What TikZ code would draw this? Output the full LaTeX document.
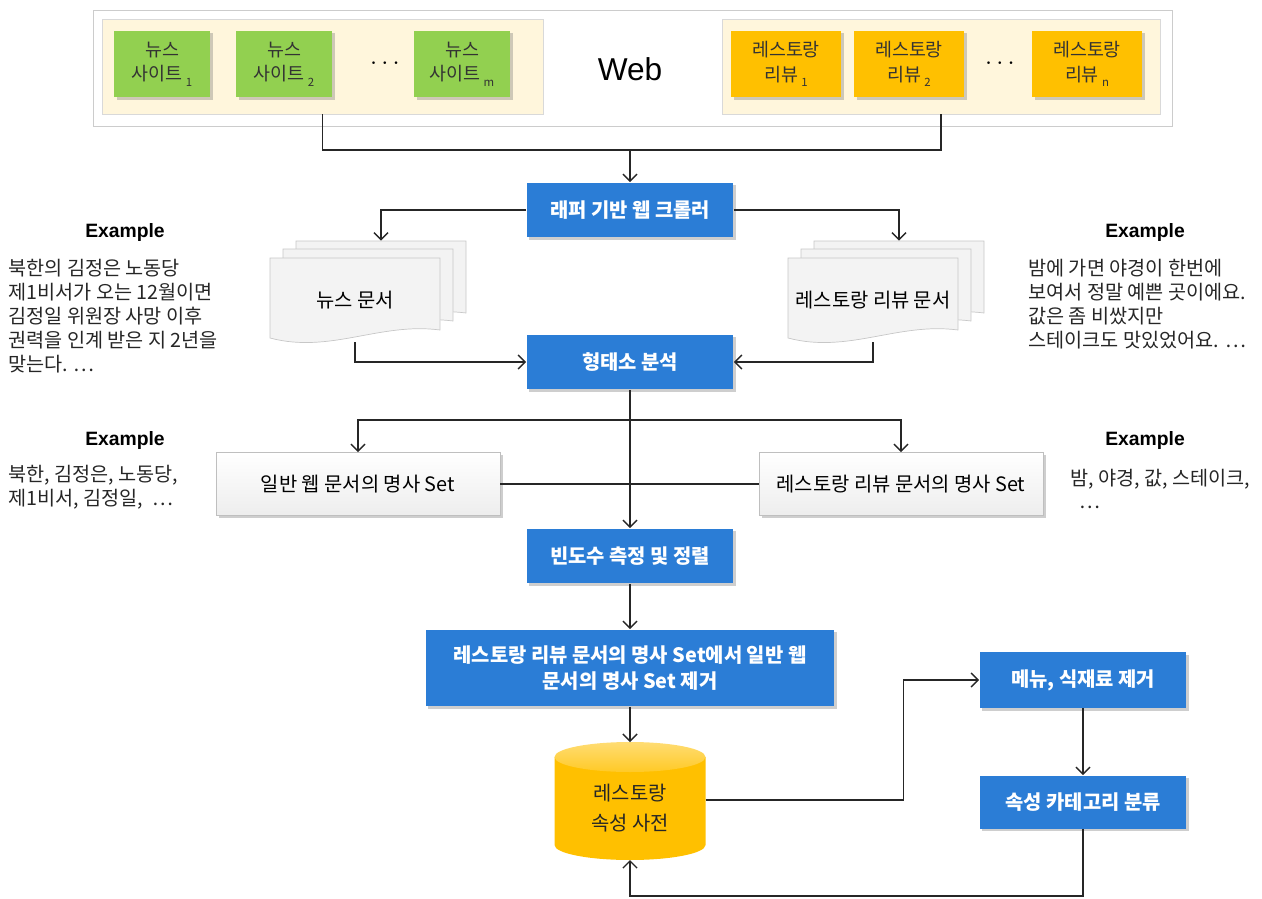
\documentclass[tikz,border=0pt]{standalone}
\usepackage{fontspec}
\setmainfont{Noto Sans CJK KR}
\newfontfamily\headfont{Liberation Sans}
\usepackage{tikz}
\usetikzlibrary{arrows.meta,shadows,calc}

\definecolor{procblue}{RGB}{43,125,214}
\definecolor{sitegreen}{RGB}{146,208,80}
\definecolor{revorange}{RGB}{255,192,0}
\definecolor{panelcream}{RGB}{255,246,220}
\definecolor{pagegray}{RGB}{243,243,243}

\newcommand\subidx[1]{\,\raisebox{-0.5ex}{\fontsize{6.5}{6.5}\selectfont #1}}

\tikzset{
  boxshadow/.style={drop shadow={shadow xshift=1.6pt,shadow yshift=-1.6pt,fill=black!55,opacity=0.35}},
  procbox/.style={fill=procblue,text=white,boxshadow,align=center,inner sep=2pt,
    font=\fontsize{11.3}{15}\selectfont\bfseries,minimum width=4.14cm,minimum height=1.1cm},
  nounbox/.style={draw=black!25,top color=white,bottom color=black!7,boxshadow,
    font=\fontsize{11.3}{15}\selectfont,minimum width=5.68cm,minimum height=1.26cm},
  sitebox/.style={fill=sitegreen,text=black!80,boxshadow,align=center,
    font=\fontsize{10.5}{14}\selectfont,minimum width=1.92cm,minimum height=1.34cm},
  revbox/.style={sitebox,fill=revorange,minimum width=2.2cm},
  panel/.style={draw=black!15,fill=panelcream,minimum height=1.9cm},
  pageline/.style={draw=black!22,fill=pagegray},
  doctext/.style={font=\fontsize{11.3}{15}\selectfont,minimum width=3.4cm,minimum height=1.68cm},
  exhead/.style={font=\headfont\fontsize{11}{13}\selectfont\bfseries},
  extext/.style={align=left,text=black!85,inner sep=0pt,font=\fontsize{11.2}{13.6}\selectfont},
  dots/.style={font=\Large},
  link/.style={draw=black!85,line width=0.8pt},
  docpage/.pic={
    \path[pageline] (0,0) -- (170,0) -- (170,72) .. controls (110,64) and (60,96) .. (0,80) -- cycle;
  },
  docstack/.pic={
    \pic at (26,-17) {docpage};
    \pic at (13,-9) {docpage};
    \pic at (0,0) {docpage};
  }
}

\begin{document}
\begin{tikzpicture}[x=0.02cm,y=-0.02cm,>={Straight Barb[length=4pt,width=8pt]}]
  \useasboundingbox (0,0) rectangle (1262,899);

  % web sources
  \draw[draw=black!20,fill=white] (93,10) rectangle (1172,126);
  \node[panel,minimum width=8.82cm] (newspanel) at (322.5,66.5) {};
  \node[panel,minimum width=8.76cm] (revpanel) at (941,66.5) {};
  \node[sitebox] (site1) at (162,64) {뉴스\\사이트\subidx{1}};
  \node[sitebox] (site2) at (284,64) {뉴스\\사이트\subidx{2}};
  \node[dots] (sitedots) at (385,64) {$\cdots$};
  \node[sitebox] (sitem) at (462,64) {뉴스\\사이트\subidx{m}};
  \node[font=\headfont\fontsize{18}{21}\selectfont] (web) at (630,69) {Web};
  \node[revbox] (rev1) at (786,64) {레스토랑\\리뷰\subidx{1}};
  \node[revbox] (rev2) at (909,64) {레스토랑\\리뷰\subidx{2}};
  \node[dots] (revdots) at (1000,64) {$\cdots$};
  \node[revbox] (revn) at (1087,64) {레스토랑\\리뷰\subidx{n}};

  % processing steps
  \node[procbox] (crawler) at (630,210) {래퍼 기반 웹 크롤러};
  \pic at (270,258) {docstack};
  \node[doctext] (news) at (355,300) {뉴스 문서};
  \pic at (788,258) {docstack};
  \node[doctext] (review) at (873,300) {레스토랑 리뷰 문서};
  \node[procbox] (analysis) at (630,362) {형태소 분석};
  \node[nounbox] (webnouns) at (358,484) {일반 웹 문서의 명사 Set};
  \node[nounbox] (revnouns) at (901,484) {레스토랑 리뷰 문서의 명사 Set};
  \node[procbox] (freq) at (630,556) {빈도수 측정 및 정렬};
  \node[procbox,minimum width=8.18cm,minimum height=1.54cm] (remove) at (630,668)
    {레스토랑 리뷰 문서의 명사 Set에서 일반 웹\\문서의 명사 Set 제거};
  \node[procbox,minimum height=1.12cm] (menu) at (1083,680) {메뉴, 식재료 제거};
  \node[procbox,minimum height=1.06cm] (category) at (1083,802) {속성 카테고리 분류};

  % dictionary
  \fill[revorange] (554.5,757) -- (554.5,845) arc[start angle=180,end angle=0,x radius=75.5,y radius=15] -- (705.5,757) -- cycle;
  \shade[top color=revorange!55,bottom color=revorange!85] (630,757) ellipse [x radius=75.5,y radius=15];
  \node[align=center,font=\fontsize{11.3}{17}\selectfont,text=black!85] (dict) at (630,808) {레스토랑\\속성 사전};
  \coordinate (dbtop) at (630,742);
  \coordinate (dbbot) at (630,860);
  \coordinate (dbright) at (705.5,800);

  % examples
  \node[exhead] (exhead1) at (125,233) {Example};
  \node[extext,anchor=west] (ex1) at (8,316)
    {북한의 김정은 노동당\\제1비서가 오는 12월이면\\김정일 위원장 사망 이후\\권력을 인계 받은 지 2년을\\맞는다. …};
  \node[exhead] (exhead2) at (1145,233) {Example};
  \node[extext,anchor=west] (ex2) at (1028,304)
    {밤에 가면 야경이 한번에\\보여서 정말 예쁜 곳이에요.\\값은 좀 비쌌지만\\스테이크도 맛있었어요. …};
  \node[exhead] (exhead3) at (125,440) {Example};
  \node[extext,anchor=west] (ex3) at (8,487) {북한, 김정은, 노동당,\\제1비서, 김정일, \ …};
  \node[exhead] (exhead4) at (1145,440) {Example};
  \node[extext,anchor=west] (ex4) at (1070,489) {밤, 야경, 값, 스테이크,\\\ \ …};

  % connectors
  \coordinate (webjoin) at (630,150);
  \coordinate (split) at (630,420);
  \draw[link] (newspanel.south) |- (webjoin) -| (revpanel.south);
  \draw[link,->] (webjoin) -- (crawler.north);
  \draw[link,->] (crawler.west) -| ($(news.north)+(26,-17)$);
  \draw[link,->] (crawler.east) -| ($(review.north)+(26,-17)$);
  \draw[link,->] (news.south) |- (analysis.west);
  \draw[link,->] (review.south) |- (analysis.east);
  \draw[link] (analysis.south) -- (split);
  \draw[link,->] (split) -| (webnouns.north);
  \draw[link,->] (split) -| (revnouns.north);
  \draw[link,->] (split) -- (freq.north);
  \draw[link] (webnouns.east) -- (webnouns.east -| split);
  \draw[link] (revnouns.west) -- (revnouns.west -| split);
  \draw[link,->] (freq.south) -- (remove.north);
  \draw[link,->] (remove.south) -- (dbtop);
  \draw[link,->] (dbright) -- ++(198,0) |- (menu.west);
  \draw[link,->] (menu.south) -- (category.north);
  \draw[link,->] (category.south) -- ++(0,67) -| (dbbot);
\end{tikzpicture}
\end{document}
